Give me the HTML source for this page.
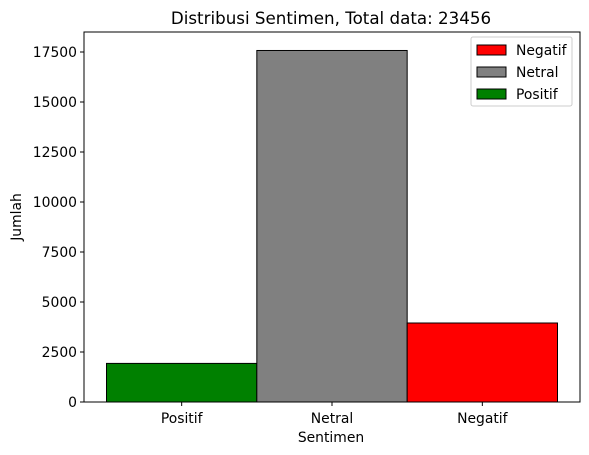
<!DOCTYPE html>
<html><head><meta charset="utf-8"><style>
html,body{margin:0;padding:0;background:#fff;}
svg{display:block;font-family:"DejaVu Sans","Liberation Sans",sans-serif;}
</style></head><body>
<svg id="chart" width="589" height="455" viewBox="0 0 589 455">
<text x="331" y="24" text-anchor="middle" font-size="16.7">Distribusi Sentimen, Total data: 23456</text>
<g id="bars"></g>
<g id="yticks"></g>
<g id="xticks"></g>
<rect x="84" y="32" width="496" height="370" fill="none" stroke="#000" stroke-width="1"/>
<text x="331" y="442" text-anchor="middle" font-size="13.9">Sentimen</text>
<text transform="translate(21,217) rotate(-90)" text-anchor="middle" font-size="13.9">Jumlah</text>
<g id="legend">
<rect x="471" y="37" width="101" height="69" rx="2" fill="#fff" stroke="#ccc"/>
</g>
</svg>
<script>
const categories=["Positif","Netral","Negatif"];
const values=[1930,17576,3950];
const colors=["green","gray","red"];
const yTicks=[0,2500,5000,7500,10000,12500,15000,17500];
const legendLabels=["Negatif","Netral","Positif"];
const legendColors=["red","gray","green"];
const NS="http://www.w3.org/2000/svg";
const x0=84,x1=580,yBase=402,pxPerUnit=350/17500;
const bw=451/categories.length, xStart=x0+(496-451)/2;
const yS=v=>yBase-v*pxPerUnit;
const xS=i=>xStart+i*bw;
function mk(t,a){const e=document.createElementNS(NS,t);for(const k in a)e.setAttribute(k,a[k]);return e;}
const bars=document.getElementById('bars');
categories.forEach((c,i)=>{
 const r=mk('rect',{x:xS(i),y:yS(values[i]),width:bw,height:values[i]*pxPerUnit,fill:colors[i],stroke:'#000','stroke-width':1});
 
 
 bars.appendChild(r);
 const xt=document.getElementById('xticks');
 const cx=xS(i)+bw/2;
 xt.appendChild(mk('line',{x1:cx,x2:cx,y1:402,y2:406,stroke:'#000'}));
 const t=mk('text',{x:cx,y:423,'text-anchor':'middle','font-size':13.9});
 t.textContent=c;
 
 
 xt.appendChild(t);
});
const yt=document.getElementById('yticks');
yTicks.forEach(v=>{
 const y=yS(v);
 yt.appendChild(mk('line',{x1:80,x2:84,y1:y,y2:y,stroke:'#000'}));
 const t=mk('text',{x:77,y:y+5,'text-anchor':'end','font-size':13.9});
 t.textContent=v;
 
 
 yt.appendChild(t);
});
const lg=document.getElementById('legend');
legendLabels.forEach((l,i)=>{
 const y=45+i*22;
 const r=mk('rect',{x:477,y:y,width:29,height:10,fill:legendColors[i],stroke:'#000'});
 
 
 lg.appendChild(r);
 const t=mk('text',{x:516,y:y+10,'font-size':13.9});
 t.textContent=l;
 
 
 lg.appendChild(t);
});
</script>
</body></html>
